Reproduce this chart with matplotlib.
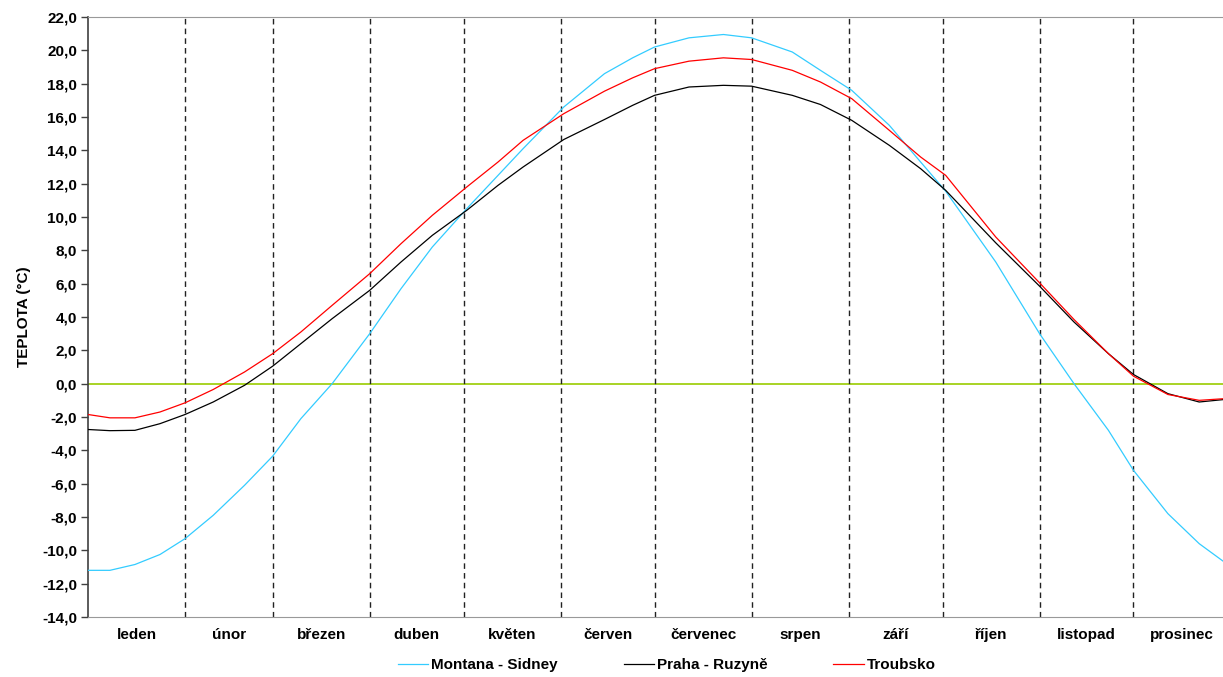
import numpy as np
import matplotlib.pyplot as plt
from matplotlib.ticker import FuncFormatter, MultipleLocator

plt.rcParams['font.family'] = ['Liberation Sans Narrow', 'Liberation Sans', 'DejaVu Sans']
plt.rcParams['font.weight'] = 'bold'

# den v roce
days = [0, 7, 15, 23, 31, 40, 50, 59, 68, 78, 90, 100, 110, 121, 131, 139, 152, 165,
        174, 181, 192, 203, 212, 225, 234, 244, 256, 266, 274, 290, 304, 315, 326, 334,
        345, 355, 363]

montana = [-11.2, -11.2, -10.85, -10.25, -9.3, -7.9, -6.1, -4.35, -2.1, 0.0, 3.0, 5.7,
           8.2, 10.5, 12.5, 14.1, 16.6, 18.6, 19.55, 20.2, 20.75, 20.95, 20.75, 19.9, 18.8,
           17.6, 15.5, 13.3, 11.55, 7.3, 3.0, 0.0, -2.8, -5.2, -7.8, -9.6, -10.7]

praha = [-2.75, -2.82, -2.8, -2.4, -1.85, -1.1, -0.1, 1.05, 2.4, 3.9, 5.6, 7.3, 8.9,
         10.4, 11.9, 13.0, 14.65, 15.85, 16.7, 17.3, 17.8, 17.9, 17.85, 17.3, 16.75, 15.8,
         14.3, 12.9, 11.6, 8.45, 5.85, 3.7, 1.8, 0.55, -0.6, -1.1, -0.95]

troubsko = [-1.85, -2.05, -2.05, -1.7, -1.15, -0.35, 0.7, 1.8, 3.1, 4.7, 6.6, 8.4, 10.1,
            11.8, 13.3, 14.6, 16.2, 17.55, 18.35, 18.9, 19.35, 19.55, 19.45, 18.8, 18.1, 17.1,
            15.2, 13.6, 12.5, 8.8, 6.05, 3.85, 1.8, 0.45, -0.65, -1.0, -0.9]

months = ['leden', 'únor', 'březen', 'duben', 'květen', 'červen', 'červenec', 'srpen',
          'září', 'říjen', 'listopad', 'prosinec']
month_len = [31, 28, 31, 30, 31, 30, 31, 31, 30, 31, 30, 31]

edges = np.cumsum([0] + month_len)
mids = (edges[:-1] + edges[1:]) / 2

fig = plt.figure(figsize=(12.23, 6.77), dpi=100)
ax = fig.add_axes([88/1223, 60/677, 1135/1223, 600/677])

ax.axhline(0, color='#99cc00', lw=1.2, zorder=1)
for e in edges[1:-1]:
    ax.axvline(e, color='#222222', lw=1.0, ls=(0, (4, 3)), zorder=1)

ax.plot(days, montana, color='#33ccff', lw=0.9, label='Montana - Sidney', zorder=3)
ax.plot(days, praha, color='black', lw=0.9, label='Praha - Ruzyně', zorder=3)
ax.plot(days, troubsko, color='#ff0000', lw=0.9, label='Troubsko', zorder=4)

ax.set_xlim(0, 362.6)
ax.set_ylim(-14, 22)
ax.yaxis.set_major_locator(MultipleLocator(2))
ax.yaxis.set_major_formatter(FuncFormatter(lambda v, p: f'{v:.1f}'.replace('.', ',')))
ax.tick_params(axis='y', length=5, width=1, color='#404040', labelsize=11, pad=3)

ax.set_xticks(edges[1:-1])
ax.set_xticklabels([])
ax.tick_params(axis='x', which='major', length=0)
ax.set_xticks(mids, minor=True)
ax.set_xticklabels(months, minor=True, fontsize=11, fontweight='bold')
ax.tick_params(axis='x', which='minor', length=0, pad=8)

ax.set_ylabel('TEPLOTA (°C)', fontsize=11, fontweight='bold', labelpad=8)

ax.spines['right'].set_visible(False)
ax.spines['left'].set_color('#404040')
ax.spines['left'].set_linewidth(1.2)
ax.spines['top'].set_color('#999999')
ax.spines['bottom'].set_color('#999999')

ax.legend(loc='center', bbox_to_anchor=(0.51, -0.08), ncol=3, frameon=False,
          fontsize=11, handlelength=2.0, handletextpad=0.2, columnspacing=4.3)

fig.savefig('out.png', dpi=100)
